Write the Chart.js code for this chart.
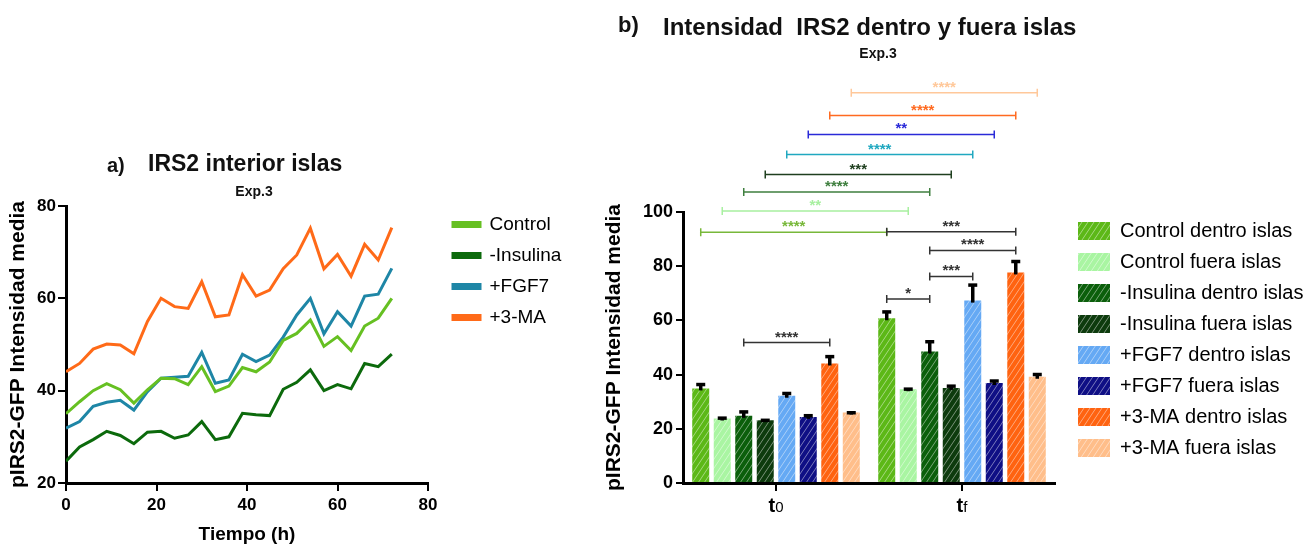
<!DOCTYPE html>
<html>
<head>
<meta charset="utf-8">
<script src="https://cdn.jsdelivr.net/npm/chart.js@4"></script>
<style>
body { margin: 0; background: #fff; width: 1309px; height: 547px; position: relative; overflow: hidden; font-family: 'Liberation Sans', Arial, sans-serif; color: #111; }
canvas { position: absolute; }
.t { position: absolute; font-weight: bold; white-space: pre; line-height: 1; }
</style>
</head>
<body>
<canvas id="lineChart" width="590" height="407" style="left:0;top:140px"></canvas>
<canvas id="barChart" width="709" height="547" style="left:600px;top:0"></canvas>

<div class="t" style="left:107px;top:155px;font-size:20px">a)</div>
<div class="t" style="left:148px;top:152px;font-size:23px">IRS2 interior islas</div>
<div class="t" style="left:204px;top:184px;width:100px;text-align:center;font-size:14px">Exp.3</div>
<div class="t" style="left:618px;top:14px;font-size:22px">b)</div>
<div class="t" style="left:663px;top:15px;font-size:24px">Intensidad  IRS2 dentro y fuera islas</div>
<div class="t" style="left:828px;top:46px;width:100px;text-align:center;font-size:14px">Exp.3</div>

<script>
// ---- panel a: time course ----
const hours = [0, 3, 6, 9, 12, 15, 18, 21, 24, 27, 30, 33, 36, 39, 42, 45, 48, 51, 54, 57, 60, 63, 66, 69, 72];
const control  = [35.0, 37.6, 40.0, 41.5, 40.2, 37.3, 40.2, 42.7, 42.6, 41.3, 45.2, 39.8, 41.0, 45.0, 44.1, 46.2, 50.9, 52.4, 55.3, 49.6, 51.7, 48.7, 54.0, 55.7, 60.0];
const insulina = [24.7, 27.8, 29.4, 31.2, 30.3, 28.5, 31.0, 31.2, 29.7, 30.4, 33.3, 29.4, 30.0, 35.1, 34.8, 34.6, 40.3, 41.8, 44.5, 40.0, 41.3, 40.4, 45.9, 45.2, 47.9];
const fgf7     = [31.9, 33.3, 36.6, 37.5, 37.9, 35.8, 39.8, 42.7, 42.9, 43.1, 48.3, 41.6, 42.3, 47.9, 46.3, 47.7, 51.6, 56.4, 60.0, 52.3, 57.1, 54.0, 60.5, 60.9, 66.5];
const ma3      = [44.1, 45.9, 49.0, 50.1, 49.9, 48.0, 55.0, 60.0, 58.2, 57.8, 63.6, 56.0, 56.4, 65.1, 60.5, 61.8, 66.4, 69.4, 75.2, 66.4, 69.5, 64.8, 71.7, 68.3, 75.3];
const lineNames = ['Control', '-Insulina', '+FGF7', '+3-MA'];
const xTicks = [0, 20, 40, 60, 80];
const yTicksA = [20, 40, 60, 80];

// ---- panel b: bars ----
const groups = ['t0', 'tf'];
const barNames = ['Control dentro islas', 'Control fuera islas', '-Insulina dentro islas', '-Insulina fuera islas',
                  '+FGF7 dentro islas', '+FGF7 fuera islas', '+3-MA dentro islas', '+3-MA fuera islas'];
const barT0 = [34.9, 23.8, 24.8, 23.2, 32.2, 24.4, 44.1, 26.0];
const barTf = [60.8, 34.6, 48.5, 35.1, 67.3, 36.9, 77.7, 39.2];
const errT0 = [1.8, 0.5, 1.8, 0.3, 1.2, 0.8, 2.9, 0.3];
const errTf = [2.7, 0.4, 4.0, 1.0, 6.1, 1.1, 4.4, 1.2];
// [dataset A, group A, dataset B, group B, height, label]
const brackets = [
  [0, 0, 0, 1, 92.5, '****'],
  [1, 0, 1, 1, 100.4, '**'],
  [2, 0, 2, 1, 107.4, '****'],
  [3, 0, 3, 1, 113.8, '***'],
  [4, 0, 4, 1, 121.2, '****'],
  [5, 0, 5, 1, 128.6, '**'],
  [6, 0, 6, 1, 135.6, '****'],
  [7, 0, 7, 1, 144.0, '****'],
  [0, 1, 6, 1, 92.7, '***'],
  [2, 1, 6, 1, 85.8, '****'],
  [2, 1, 4, 1, 76.2, '***'],
  [0, 1, 2, 1, 67.9, '*'],
  [2, 0, 6, 0, 51.8, '****']
];

const FONT = "'Liberation Sans', Arial, sans-serif";
Chart.defaults.font.family = FONT;
Chart.defaults.color = '#000';

const lineColors = ['#66c022', '#0c6a0c', '#1e86a6', '#ff6a18'];
const barColors = ['#5cb817', '#a9f5a2', '#0b5f0b', '#0d3b0d', '#65a9f4', '#0f0f85', '#ff6310', '#ffbe8a'];
const bracketColors = ['#78b83a', '#a8f0a0', '#3f7f3f', '#1f3f1f', '#20a8c0', '#2a2ad8', '#ff6a20', '#ffc89a',
                       '#333', '#333', '#333', '#333', '#333'];

function hatch(color) {
  const c = document.createElement('canvas');
  c.width = 6; c.height = 9;
  const g = c.getContext('2d');
  g.fillStyle = color;
  g.fillRect(0, 0, 6, 9);
  g.strokeStyle = 'rgba(255,255,255,0.45)';
  g.lineWidth = 1;
  g.beginPath();
  g.moveTo(0, 9); g.lineTo(6, 0);
  g.moveTo(-1, 1.5); g.lineTo(1, -1.5);
  g.moveTo(5, 10.5); g.lineTo(7, 7.5);
  g.stroke();
  return g.createPattern(c, 'repeat');
}

// legend box always starts at chartArea.right: move it, and widen it so the clip keeps the text
function nudge(dx, dy) {
  return {
    id: 'nudge',
    afterLayout(chart) {
      const l = chart.legend;
      l.left += dx; l.right = chart.width;
      l.top += dy; l.bottom = chart.height;
    }
  };
}

function axisStyle(tickLen) {
  return {
    grid: { display: true, drawOnChartArea: false, drawTicks: true, tickLength: tickLen, color: '#000', lineWidth: 2 },
    border: { display: true, color: '#000', width: 3 }
  };
}

const series = [control, insulina, fgf7, ma3];
new Chart(document.getElementById('lineChart'), {
  type: 'line',
  data: {
    datasets: series.map((vals, i) => ({
      label: lineNames[i],
      data: hours.map((h, k) => ({ x: h, y: vals[k] })),
      borderColor: lineColors[i],
      backgroundColor: lineColors[i],
      borderWidth: 3,
      pointRadius: 0,
      tension: 0
    }))
  },
  options: {
    responsive: false,
    animation: false,
    layout: { padding: { top: 66, left: 0, right: 52, bottom: 0 } },
    scales: {
      x: {
        type: 'linear', min: 0, max: 80,
        afterBuildTicks: s => { s.ticks = xTicks.map(v => ({ value: v })); },
        afterFit: s => { s.height = 64; },
        ticks: { font: { size: 17, weight: 'bold' }, padding: 4, color: '#000' },
        title: { display: true, text: 'Tiempo (h)', font: { size: 19, weight: 'bold' }, color: '#000', padding: { top: 0, bottom: 1 } },
        ...axisStyle(8)
      },
      y: {
        min: 20, max: 80,
        afterBuildTicks: s => { s.ticks = yTicksA.map(v => ({ value: v })); },
        afterFit: s => { s.width = 66; },
        ticks: { font: { size: 17, weight: 'bold' }, padding: 2, color: '#000' },
        title: { display: true, text: 'pIRS2-GFP Intensidad media', font: { size: 21, weight: 'bold' }, color: '#000', padding: { top: 6, bottom: 0 } },
        ...axisStyle(8)
      }
    },
    plugins: {
      legend: {
        position: 'right', align: 'start', fullSize: false, maxWidth: 110,
        labels: { boxWidth: 27, boxHeight: 4, padding: 12, font: { size: 19 }, color: '#000' }
      },
      tooltip: { enabled: false }
    }
  },
  plugins: [nudge(13, -3)]
});

const barExtras = {
  id: 'barExtras',
  afterDraw(chart) {
    const ctx = chart.ctx, xs = chart.scales.x, ys = chart.scales.y;
    ctx.save();
    // error bars (upper only)
    chart.data.datasets.forEach((ds, i) => {
      chart.getDatasetMeta(i).data.forEach((bar, j) => {
        const yt = ys.getPixelForValue(ds.data[j] + ds.errors[j]);
        ctx.strokeStyle = '#000';
        ctx.lineWidth = 3.5;
        ctx.beginPath(); ctx.moveTo(bar.x, bar.y + 2); ctx.lineTo(bar.x, yt); ctx.stroke();
        ctx.lineWidth = 3.5;
        ctx.beginPath(); ctx.moveTo(bar.x - 4.5, yt + 1); ctx.lineTo(bar.x + 4.5, yt + 1); ctx.stroke();
      });
    });
    // significance brackets
    brackets.forEach((b, k) => {
      const x1 = chart.getDatasetMeta(b[0]).data[b[1]].x;
      const x2 = chart.getDatasetMeta(b[2]).data[b[3]].x;
      const y = ys.getPixelForValue(b[4]);
      ctx.strokeStyle = bracketColors[k];
      ctx.fillStyle = bracketColors[k];
      ctx.lineWidth = 1.5;
      ctx.beginPath();
      ctx.moveTo(x1, y); ctx.lineTo(x2, y);
      ctx.moveTo(x1, y - 4); ctx.lineTo(x1, y + 4);
      ctx.moveTo(x2, y - 4); ctx.lineTo(x2, y + 4);
      ctx.stroke();
      ctx.font = 'bold 15px ' + FONT;
      ctx.textAlign = 'center';
      ctx.textBaseline = 'alphabetic';
      ctx.fillText(b[5], (x1 + x2) / 2, y - 1);
    });
    // group labels with subscript
    ctx.fillStyle = '#000';
    ctx.textAlign = 'left';
    groups.forEach((g, i) => {
      const x = xs.getPixelForTick(i);
      const main = g[0], sub = g.slice(1);
      ctx.font = 'bold 20px ' + FONT;
      const w1 = ctx.measureText(main).width;
      ctx.font = '15px ' + FONT;
      const w2 = ctx.measureText(sub).width;
      const x0 = x - (w1 + w2) / 2;
      const yb = xs.top + 29;
      ctx.font = 'bold 20px ' + FONT;
      ctx.fillText(main, x0, yb);
      ctx.font = '15px ' + FONT;
      ctx.fillText(sub, x0 + w1, yb);
    });
    ctx.restore();
  }
};

new Chart(document.getElementById('barChart'), {
  type: 'bar',
  data: {
    labels: groups,
    datasets: barNames.map((name, i) => ({
      label: name,
      data: [barT0[i], barTf[i]],
      errors: [errT0[i], errTf[i]],
      backgroundColor: hatch(barColors[i]),
      borderWidth: 0,
      categoryPercentage: 0.925,
      barPercentage: 0.79
    }))
  },
  options: {
    responsive: false,
    animation: false,
    layout: { padding: { top: 212, left: 0, right: 54, bottom: 0 } },
    scales: {
      x: {
        afterFit: s => { s.height = 64; },
        ticks: { display: false },
        ...axisStyle(8),
        grid: { display: true, drawOnChartArea: false, drawTicks: true, tickLength: 8, color: '#000', lineWidth: 2, offset: false }
      },
      y: {
        min: 0, max: 100,
        ticks: { stepSize: 20, font: { size: 18, weight: 'bold' }, padding: 3, color: '#000' },
        afterFit: s => { s.width = 83; },
        title: { display: true, text: 'pIRS2-GFP Intensidad media', font: { size: 21, weight: 'bold' }, color: '#000', padding: { top: 2, bottom: 0 } },
        ...axisStyle(7)
      }
    },
    plugins: {
      legend: {
        position: 'right', align: 'start', fullSize: false, maxWidth: 200,
        labels: { boxWidth: 32, boxHeight: 18, padding: 11, font: { size: 20 }, color: '#000' }
      },
      tooltip: { enabled: false }
    }
  },
  plugins: [nudge(12, -2), barExtras]
});
</script>
</body>
</html>
